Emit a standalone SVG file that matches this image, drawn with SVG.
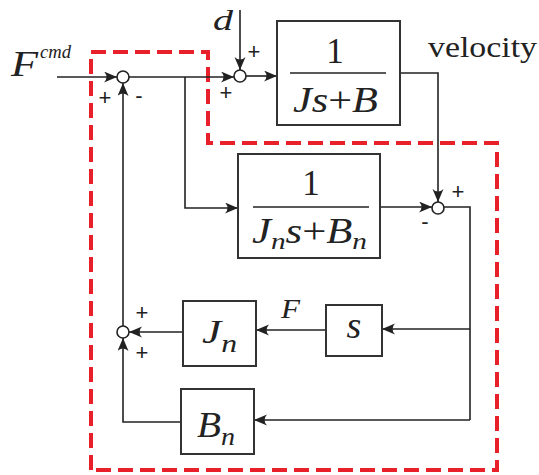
<svg xmlns="http://www.w3.org/2000/svg" width="539" height="475" viewBox="0 0 539 475">
<defs>
<marker id="ah" markerUnits="userSpaceOnUse" markerWidth="14" markerHeight="12" refX="13" refY="5.5" orient="auto">
<path d="M13,5.5 L0,0 Q5,5.5 0,11 Z" fill="#222"/>
</marker>
<style>
.box{fill:#fff;stroke:#333;stroke-width:2}
.sum{fill:#fff;stroke:#222;stroke-width:1.6}
.ln{fill:none;stroke:#222;stroke-width:1.6}
.arr{fill:none;stroke:#222;stroke-width:1.6;marker-end:url(#ah)}
.m{font-style:italic;fill:#222}
.r{fill:#222}
.pm{fill:#222;font-size:22px}
.frac{stroke:#222;stroke-width:1.6}
</style>
</defs>
<rect width="539" height="475" fill="#fff"/>
<path d="M91,470 L91,52 L208,52 L208,143 L497,143 L497,470 Z" fill="none" stroke="#e8202a" stroke-width="4" stroke-dasharray="15 7"/>
<g id="connectors">
<path class="arr" d="M57,77 L117,77"/>
<path class="arr" d="M129,77 L234,77"/>
<path class="arr" d="M240,10 L240,70"/>
<path class="arr" d="M246,76 L277,76"/>
<path class="arr" d="M400,73 L438,73 L438,202"/>
<path class="arr" d="M185,77 L185,208 L238,208"/>
<path class="arr" d="M380,207 L432,207"/>
<path class="ln" d="M444,207 L470,207 L470,420"/>
<path class="arr" d="M470,329 L382,329"/>
<path class="arr" d="M326,330 L256,330"/>
<path class="arr" d="M183,332 L129,332"/>
<path class="arr" d="M470,420 L254,420"/>
<path class="arr" d="M181,422 L123,422 L123,338"/>
<path class="arr" d="M123,326 L123,83"/>
</g>
<g font-family="'Liberation Sans', Arial, sans-serif">
<g id="sum1"><circle class="sum" cx="123" cy="77" r="6"/>
<text class="pm" x="105" y="105" text-anchor="middle">+</text>
<text class="pm" x="139" y="103" text-anchor="middle">-</text></g>
<g id="sum2"><circle class="sum" cx="240" cy="76" r="6"/>
<text class="pm" x="254" y="59" text-anchor="middle">+</text>
<text class="pm" x="226" y="100" text-anchor="middle">+</text></g>
<g id="sum3"><circle class="sum" cx="438" cy="208" r="6"/>
<text class="pm" x="458" y="199" text-anchor="middle">+</text>
<text class="pm" x="425" y="229" text-anchor="middle">-</text></g>
<g id="sum4"><circle class="sum" cx="123" cy="332" r="6"/>
<text class="pm" x="142" y="320" text-anchor="middle">+</text>
<text class="pm" x="142" y="360" text-anchor="middle">+</text></g>
</g>
<g font-family="'Liberation Serif', 'Times New Roman', serif">
<g id="input"><text class="m" x="11" y="76" font-size="36" textLength="27" lengthAdjust="spacingAndGlyphs">F</text><text class="m" x="40" y="58" font-size="18" textLength="31" lengthAdjust="spacingAndGlyphs">cmd</text></g>
<g id="dist"><text class="m" x="213" y="30" font-size="29" textLength="20" lengthAdjust="spacingAndGlyphs">d</text></g>
<g id="plant">
<rect class="box" x="277" y="21" width="123" height="104"/>
<line class="frac" x1="290" y1="73" x2="386" y2="73"/>
<text class="r" x="335" y="63" font-size="35" text-anchor="middle">1</text>
<text class="m" x="293" y="112" font-size="35" textLength="85" lengthAdjust="spacingAndGlyphs">Js<tspan font-style="normal">+</tspan>B</text>
</g>
<text id="velocity" class="r" x="428" y="57" font-size="30" textLength="109" lengthAdjust="spacingAndGlyphs">velocity</text>
<g id="model">
<rect class="box" x="238" y="154" width="142" height="104"/>
<line class="frac" x1="253" y1="207" x2="369" y2="207"/>
<text class="r" x="311" y="195" font-size="35" text-anchor="middle">1</text>
<text class="m" x="252" y="243" font-size="35" textLength="115" lengthAdjust="spacingAndGlyphs">J<tspan font-size="24" dy="6">n</tspan><tspan dy="-6">s</tspan><tspan font-style="normal">+</tspan>B<tspan font-size="24" dy="6">n</tspan></text>
</g>
<g id="Jn">
<rect class="box" x="183" y="301" width="73" height="65"/>
<text class="m" x="202" y="343" font-size="34" textLength="35" lengthAdjust="spacingAndGlyphs">J<tspan font-size="25" dy="9">n</tspan></text>
</g>
<g id="s">
<rect class="box" x="326" y="305" width="56" height="51"/>
<text class="m" x="354" y="338" font-size="38" text-anchor="middle">s</text>
</g>
<text id="Flabel" class="m" x="281" y="318" font-size="27" textLength="19" lengthAdjust="spacingAndGlyphs">F</text>
<g id="Bn">
<rect class="box" x="181" y="389" width="73" height="65"/>
<text class="m" x="197" y="437" font-size="35" textLength="38" lengthAdjust="spacingAndGlyphs">B<tspan font-size="25" dy="8">n</tspan></text>
</g>
</g>
</svg>
